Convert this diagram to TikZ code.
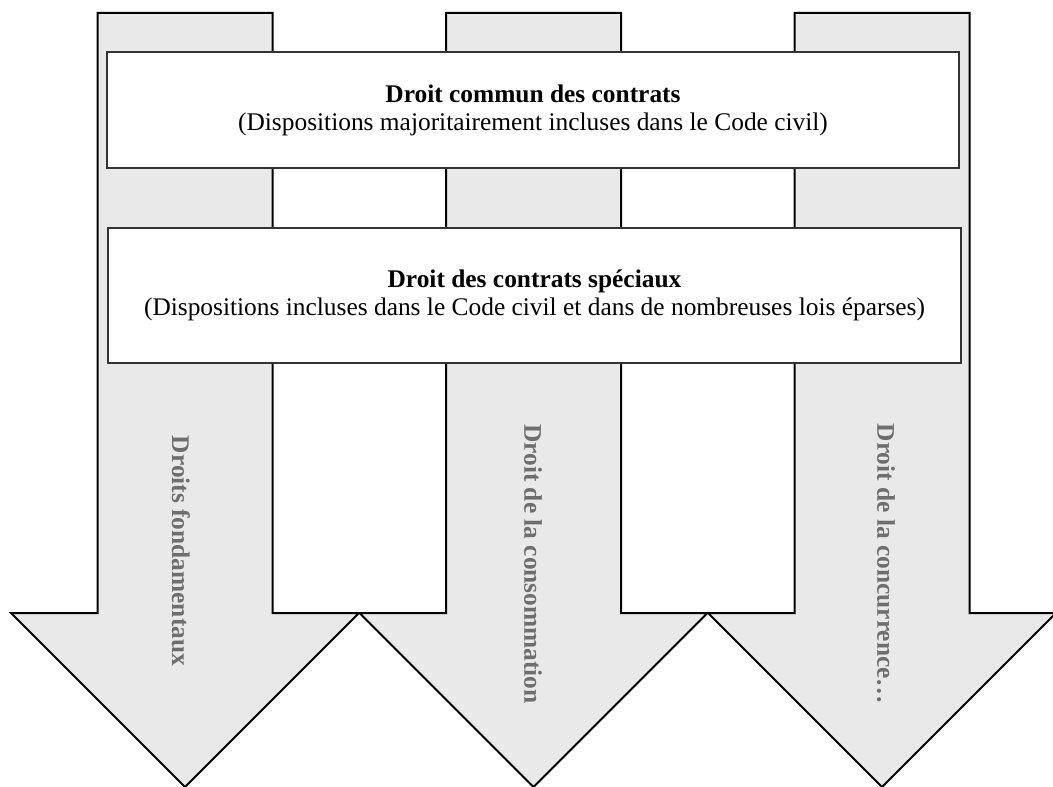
\documentclass[tikz,border=0pt]{standalone}
\usepackage{fontspec}
\setmainfont{Liberation Serif}
\usepackage{tikz}
\usetikzlibrary{positioning}

\definecolor{arrowgrey}{HTML}{E9E9E9}
\definecolor{labelgrey}{HTML}{6E6E6E}
\definecolor{boxline}{HTML}{333333}

\begin{document}
\begin{tikzpicture}[
    x=0.5pt, y=-0.5pt,
    bigarrow/.style = {draw=black, line width=1pt, fill=arrowgrey, line join=miter},
    layer/.style = {rectangle, draw=boxline, line width=0.9pt, fill=white, align=center, font=\fontsize{12.7}{14}\selectfont},
    branch/.style = {rotate=-90, text=labelgrey, font=\fontsize{12.7}{14}\selectfont\bfseries}
]
    \useasboundingbox (0,0) rectangle (1053,786);
    % three big arrows
    \foreach \cx in {185, 533.5, 882} {
        \draw[bigarrow] (\cx-87.5,13) -- (\cx+87.5,13) -- (\cx+87.5,613) -- (\cx+174,613)
            -- (\cx,787) -- (\cx-174,613) -- (\cx-87.5,613) -- cycle;
    }
    \node[branch] (fondamentaux) at (181,551) {Droits fondamentaux};
    \node[branch] (consommation) at (533,564) {Droit de la consommation};
    \node[branch] (concurrence) at (886,564) {Droit de la concurrence\dots};
    % the two layers of contract law
    \node[layer, minimum width=426pt, minimum height=58pt] (commun) at (533,110)
        {\textbf{Droit commun des contrats}\\(Dispositions majoritairement incluses dans le Code civil)};
    \node[layer, minimum width=426.5pt, minimum height=67.5pt] (speciaux) at (534.5,295.5)
        {\textbf{Droit des contrats spéciaux}\\(Dispositions incluses dans le Code civil et dans de nombreuses lois éparses)};
\end{tikzpicture}
\end{document}
